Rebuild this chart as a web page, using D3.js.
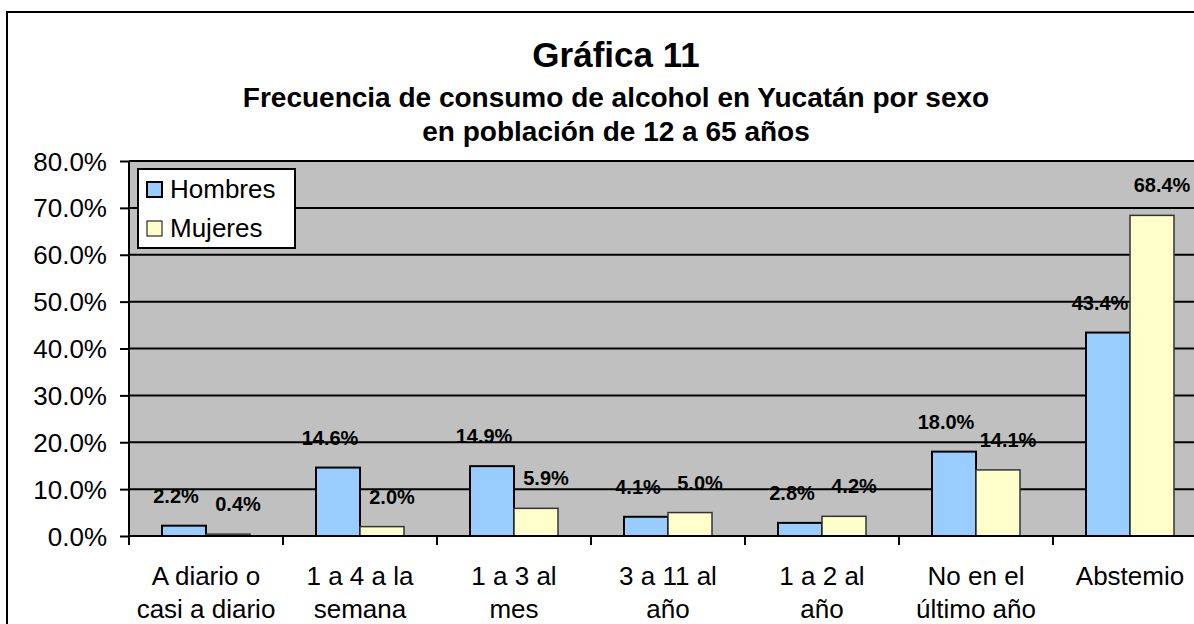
<!DOCTYPE html>
<html>
<head>
<meta charset="utf-8">
<script src="https://cdn.jsdelivr.net/npm/d3@7"></script>
<style>
  html, body { margin: 0; padding: 0; background: #fff; }
  svg { display: block; font-family: "Liberation Sans", Arial, sans-serif; }
</style>
</head>
<body>
<div id="chart"></div>
<script>
// categories on the x axis (line breaks as in the original)
const categories = [
  "A diario o\ncasi a diario",
  "1 a 4 a la\nsemana",
  "1 a 3 al\nmes",
  "3 a 11 al\naño",
  "1 a 2 al\naño",
  "No en el\núltimo año",
  "Abstemio"
];
const seriesNames = ["Hombres", "Mujeres"];
// percentages
const hombres = [2.2, 14.6, 14.9, 4.1, 2.8, 18.0, 43.4];
const mujeres = [0.4, 2.0, 5.9, 5.0, 4.2, 14.1, 68.4];
const yTicks = [0, 10, 20, 30, 40, 50, 60, 70, 80];

const colors = { Hombres: "#99ccff", Mujeres: "#ffffcc" };
// value labels are pushed apart a little so the pairs don't collide
const labelShift = { Hombres: -8, Mujeres: 10 };

var width = 1194, height = 624;
// plot area (runs past the right edge of the picture, like the original)
var plot = { left: 129, right: 1207, top: 161, bottom: 536 };

var svg = d3.select("#chart")
  .append("svg")
  .attr("width", width)
  .attr("height", height);

// outer chart border
svg.append("rect")
  .attr("x", 7).attr("y", 12)
  .attr("width", 1240).attr("height", 640)
  .attr("fill", "#fff")
  .attr("stroke", "#000")
  .attr("stroke-width", 2);

// titles
svg.append("text")
  .attr("x", 616).attr("y", 67)
  .attr("text-anchor", "middle")
  .style("font-size", "35px").style("font-weight", "bold")
  .text("Gráfica 11");

svg.append("text")
  .attr("x", 616).attr("y", 107)
  .attr("text-anchor", "middle")
  .style("font-size", "28px").style("font-weight", "bold")
  .text("Frecuencia de consumo de alcohol en Yucatán por sexo");

svg.append("text")
  .attr("x", 616).attr("y", 141)
  .attr("text-anchor", "middle")
  .style("font-size", "28px").style("font-weight", "bold")
  .text("en población de 12 a 65 años");

// scales
var x0 = d3.scaleBand()
  .domain(categories)
  .range([plot.left, plot.right])
  .padding(0);

var x1 = d3.scaleBand()
  .domain(seriesNames)
  .range([0, x0.bandwidth()])
  .paddingInner(0)
  .paddingOuter(0.75);

var y = d3.scaleLinear().domain([0, 80]).range([plot.bottom, plot.top]);

// grey plot background
svg.append("rect")
  .attr("x", plot.left).attr("y", plot.top)
  .attr("width", plot.right - plot.left)
  .attr("height", plot.bottom - plot.top)
  .attr("fill", "#c0c0c0");

// horizontal gridlines
svg.append("g")
  .selectAll("line")
  .data(yTicks.filter((d) => d > 0))
  .enter()
  .append("line")
  .attr("x1", plot.left).attr("x2", plot.right)
  .attr("y1", (d) => y(d)).attr("y2", (d) => y(d))
  .attr("stroke", "#000")
  .attr("stroke-width", 2);

// y axis
var yAxis = svg.append("g")
  .attr("transform", "translate(" + plot.left + ",0)")
  .call(d3.axisLeft(y)
    .tickValues(yTicks)
    .tickSize(9)
    .tickPadding(13)
    .tickFormat((d) => d.toFixed(1) + "%"));
yAxis.select(".domain").attr("stroke-width", 2).attr("d", "M0," + plot.top + "V" + plot.bottom);
yAxis.selectAll(".tick line").attr("stroke-width", 2);
yAxis.selectAll(".tick text")
  .style("font-size", "26px")
  .style("font-family", "'Liberation Sans', Arial, sans-serif")
  .attr("fill", "#000")
  .attr("dy", "0.35em");

// bars
var data = [];
categories.forEach((c, i) => {
  data.push({ cat: c, series: "Hombres", value: hombres[i] });
  data.push({ cat: c, series: "Mujeres", value: mujeres[i] });
});

svg.append("g")
  .selectAll("rect")
  .data(data)
  .enter()
  .append("rect")
  .attr("x", (d) => x0(d.cat) + x1(d.series))
  .attr("y", (d) => y(d.value))
  .attr("width", x1.bandwidth())
  .attr("height", (d) => y(0) - y(d.value))
  .attr("fill", (d) => colors[d.series])
  .attr("stroke", (d) => d.series == "Hombres" ? "#000" : "#333")
  .attr("stroke-width", (d) => d.series == "Hombres" ? 2 : 1.5);

// value labels above the bars
svg.append("g")
  .selectAll("text")
  .data(data)
  .enter()
  .append("text")
  .attr("x", (d) => x0(d.cat) + x1(d.series) + x1.bandwidth() / 2 + labelShift[d.series])
  .attr("y", (d) => y(d.value) - 23)
  .attr("text-anchor", "middle")
  .style("font-size", "20px").style("font-weight", "bold")
  .text((d) => d.value.toFixed(1) + "%");

// x axis: line, tick marks on the category boundaries, wrapped labels
var xAxis = svg.append("g");
xAxis.append("line")
  .attr("x1", plot.left).attr("x2", plot.right)
  .attr("y1", plot.bottom).attr("y2", plot.bottom)
  .attr("stroke", "#000").attr("stroke-width", 2);

xAxis.selectAll(".xtick")
  .data(categories)
  .enter()
  .append("line")
  .attr("class", "xtick")
  .attr("x1", (d) => x0(d)).attr("x2", (d) => x0(d))
  .attr("y1", plot.bottom).attr("y2", plot.bottom + 9)
  .attr("stroke", "#000").attr("stroke-width", 2);

var xLabels = xAxis.selectAll(".xlabel")
  .data(categories)
  .enter()
  .append("text")
  .attr("class", "xlabel")
  .attr("text-anchor", "middle")
  .style("font-size", "26px");

xLabels.selectAll("tspan")
  .data((d) => d.split("\n").map((line) => ({ cat: d, line: line })))
  .enter()
  .append("tspan")
  .attr("x", (d) => x0(d.cat) + x0.bandwidth() / 2)
  .attr("y", (d, i) => 585 + i * 33)
  .text((d) => d.line);

// legend
var legend = svg.append("g").attr("transform", "translate(138,169)");
legend.append("rect")
  .attr("width", 157).attr("height", 79)
  .attr("fill", "#fff")
  .attr("stroke", "#000").attr("stroke-width", 2);

var items = legend.selectAll(".item")
  .data(seriesNames)
  .enter()
  .append("g")
  .attr("transform", (d, i) => "translate(9," + (13 + i * 39) + ")");

items.append("rect")
  .attr("width", 15).attr("height", 15)
  .attr("fill", (d) => colors[d])
  .attr("stroke", "#000")
  .attr("stroke-width", (d) => d == "Hombres" ? 2 : 1);

items.append("text")
  .attr("x", 23).attr("y", 16)
  .style("font-size", "26px")
  .text((d) => d);
</script>
</body>
</html>
